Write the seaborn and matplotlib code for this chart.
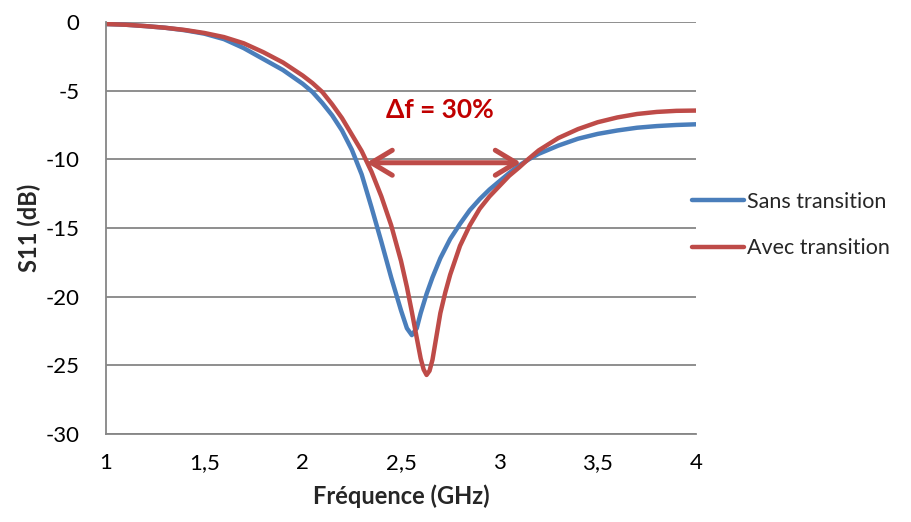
import numpy as np
import pandas as pd
import seaborn as sns
import matplotlib.pyplot as plt

# data
freq = [1.0, 1.1, 1.2, 1.3, 1.4, 1.5, 1.6, 1.7, 1.8, 1.9, 2.0, 2.05, 2.1, 2.15,
        2.2, 2.25, 2.3, 2.35, 2.4, 2.45, 2.5, 2.53, 2.555, 2.58, 2.6, 2.615, 2.63,
        2.645, 2.66, 2.68, 2.7, 2.725, 2.75, 2.8, 2.85, 2.9, 2.95, 3.0, 3.05, 3.1,
        3.15, 3.2, 3.3, 3.4, 3.5, 3.6, 3.7, 3.8, 3.9, 4.0]
sans_transition = [-0.15, -0.2, -0.3, -0.42, -0.6, -0.85, -1.25, -1.9, -2.7, -3.5,
                   -4.5, -5.1, -5.9, -6.8, -7.9, -9.3, -11.1, -13.5, -16.0, -18.6,
                   -21.0, -22.3, -22.8, -22.3, -21.2, -20.5, -19.8, -19.2, -18.6,
                   -17.9, -17.2, -16.5, -15.8, -14.7, -13.7, -12.9, -12.2, -11.6,
                   -11.0, -10.45, -10.0, -9.6, -9.0, -8.5, -8.15, -7.9, -7.7, -7.58,
                   -7.5, -7.45]
avec_transition = [-0.15, -0.2, -0.3, -0.42, -0.58, -0.8, -1.1, -1.55, -2.2, -2.95,
                   -3.9, -4.45, -5.1, -6.0, -7.0, -8.2, -9.4, -10.9, -12.7, -14.8,
                   -17.4, -19.3, -21.1, -23.0, -24.5, -25.3, -25.7, -25.4, -24.6,
                   -22.9, -21.2, -19.7, -18.4, -16.3, -14.8, -13.6, -12.7, -11.95,
                   -11.2, -10.6, -9.95, -9.35, -8.45, -7.8, -7.3, -6.95, -6.7, -6.55,
                   -6.47, -6.45]
series_names = ["Sans transition", "Avec transition"]
x_ticks = [1, 1.5, 2, 2.5, 3, 3.5, 4]
x_tick_labels = ["1", "1,5", "2", "2,5", "3", "3,5", "4"]
y_ticks = [0, -5, -10, -15, -20, -25, -30]
band_edges = [2.325, 3.11]
band_level = -10.25
band_label = "Δf = 30%"

df = pd.DataFrame({
    "freq": freq * 2,
    "s11": sans_transition + avec_transition,
    "serie": [series_names[0]] * len(freq) + [series_names[1]] * len(freq),
})

sns.set_style("white")
plt.rcParams['font.family'] = ['Lato', 'DejaVu Sans']
plt.rcParams['axes.unicode_minus'] = False

grey = '#868686'
palette = {series_names[0]: '#4A7EBB', series_names[1]: '#BE4B48'}

fig = plt.figure(figsize=(9.12, 5.22), dpi=100)
ax = fig.add_axes([0.1162, 0.1686, 0.6470, 0.7893])

sns.lineplot(data=df, x="freq", y="s11", hue="serie", palette=palette,
             linewidth=3.2, ax=ax, legend=True, sort=False)

ax.set_xlim(1, 4)
ax.set_ylim(-30, 0)
ax.set_xticks(x_ticks)
ax.set_xticklabels(x_tick_labels)
ax.set_yticks(y_ticks)
ax.set_yticklabels([str(v) for v in y_ticks])
ax.tick_params(axis='both', labelsize=16, colors='black', length=5,
               width=1.2, direction='out', color=grey, pad=14)
ax.tick_params(axis='x', pad=9)
ax.yaxis.grid(True, color=grey, linewidth=1.3)
ax.set_axisbelow(True)
for side in ['top', 'right']:
    ax.spines[side].set_visible(False)
for side in ['left', 'bottom']:
    ax.spines[side].set_color(grey)
    ax.spines[side].set_linewidth(1.3)

ax.set_xlabel("Fréquence (GHz)", fontsize=17, fontweight='bold', labelpad=8)
ax.set_ylabel("S11 (dB)", fontsize=17, fontweight='bold', labelpad=3)

# bandwidth arrow and label
ax.annotate("", xy=(band_edges[0], band_level), xytext=(band_edges[1], band_level),
            arrowprops=dict(arrowstyle='<->,head_length=0.75,head_width=0.45',
                            mutation_scale=20, color='#BE4B48', lw=3.6,
                            shrinkA=0, shrinkB=0, capstyle='round',
                            joinstyle='round'))
ax.text(2.70, -6.4, band_label, color='#C00000',
        fontsize=19, fontweight='bold', ha='center', va='center')

handles, labels = ax.get_legend_handles_labels()
ax.legend_.remove()
fig.legend(handles, labels, loc='center left', bbox_to_anchor=(0.737, 0.569),
           frameon=False, fontsize=15.5, handlelength=2.45, handletextpad=0.15,
           labelspacing=1.25)

fig.savefig("out.png", dpi=100)
